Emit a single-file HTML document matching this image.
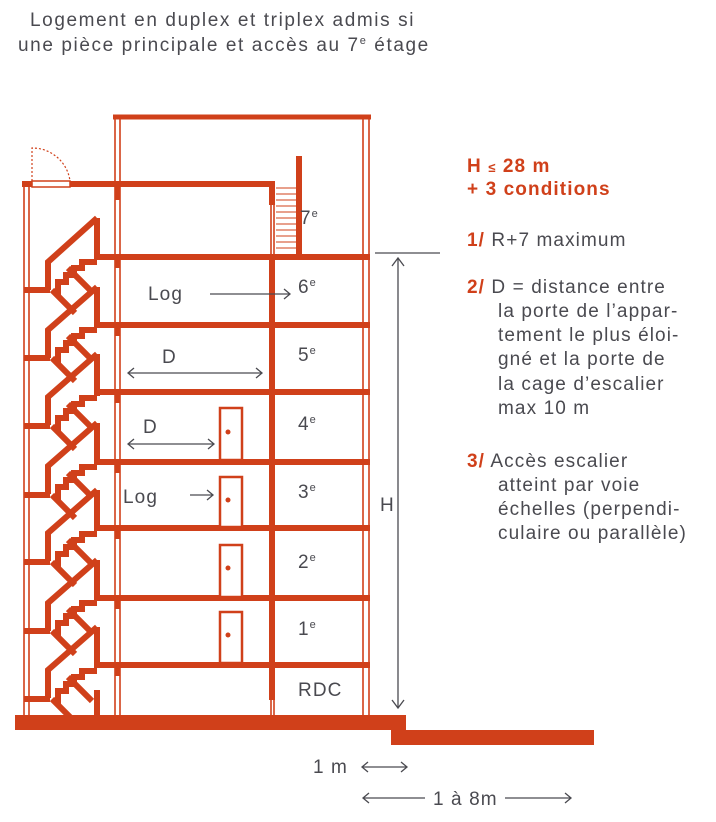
<!DOCTYPE html>
<html><head><meta charset="utf-8"><style>
html,body{margin:0;padding:0;background:#fff}
svg{display:block}
text{font-family:"Liberation Sans",sans-serif;fill:#4a4a50;letter-spacing:1.1px}
.r{fill:#d0401a;font-weight:bold}
</style></head><body>
<svg width="716" height="822" viewBox="0 0 716 822" xmlns="http://www.w3.org/2000/svg">
<g font-size="19">
<text x="30" y="26" style="letter-spacing:1.6px">Logement en duplex et triplex admis si</text>
<text x="18" y="51" style="letter-spacing:1.6px">une pièce principale et accès au 7<tspan font-size="11" dy="-7">e</tspan><tspan dy="7"> étage</tspan></text>
</g>
<g stroke="#d0401a" fill="none">
<g stroke-width="1.6">
<line x1="115" y1="117" x2="115" y2="715"/><line x1="120" y1="117" x2="120" y2="715"/>
<line x1="363" y1="117" x2="363" y2="715"/><line x1="369" y1="117" x2="369" y2="715"/>
<line x1="24" y1="184" x2="24" y2="715"/><line x1="29" y1="184" x2="29" y2="715"/>
<line x1="271" y1="188" x2="271" y2="715"/><line x1="274" y1="188" x2="274" y2="715"/>
</g>
<line x1="113" y1="117" x2="371" y2="117" stroke-width="5"/>
<g stroke-width="6">
<line x1="22" y1="184" x2="275" y2="184"/>
<line x1="272" y1="184" x2="272" y2="205"/>
<line x1="299" y1="156" x2="299" y2="257"/>
<line x1="97" y1="257" x2="370" y2="257"/>
<line x1="97" y1="325" x2="370" y2="325"/>
<line x1="97" y1="392" x2="370" y2="392"/>
<line x1="97" y1="462" x2="370" y2="462"/>
<line x1="97" y1="528" x2="370" y2="528"/>
<line x1="97" y1="598" x2="370" y2="598"/>
<line x1="97" y1="665" x2="370" y2="665"/>
<line x1="272" y1="257" x2="272" y2="700"/>
</g>
<g stroke-width="5">
<line x1="117" y1="184" x2="117" y2="200"/>
<line x1="117" y1="257" x2="117" y2="268"/><line x1="117" y1="325" x2="117" y2="336"/>
<line x1="117" y1="392" x2="117" y2="403"/><line x1="117" y1="462" x2="117" y2="473"/>
<line x1="117" y1="528" x2="117" y2="539"/><line x1="117" y1="598" x2="117" y2="609"/>
<line x1="117" y1="665" x2="117" y2="676"/>
</g>
<rect x="32" y="181" width="38" height="6" fill="#fff" stroke-width="1.5"/>
<path d="M32 185 V148 A38 38 0 0 1 70 181" stroke-width="1.2" stroke-dasharray="2 2"/>
<g stroke-width="1">
<path d="M276 188H297M276 194H297M276 200H297M276 206H297M276 212H297M276 218H297M276 224H297M276 230H297M276 236H297M276 242H297M276 248H297"/>
</g>
<g stroke-width="6" stroke-linejoin="miter">
<path d="M97 218 L48 262 V290"/>
<path d="M97 287 L48 330 V358"/>
<path d="M97 354 L48 397 V425"/>
<path d="M97 423 L48 466 V494"/>
<path d="M97 490 L48 533 V561"/>
<path d="M97 560 L48 603 V631"/>
<path d="M97 627 L48 670 V698"/>
<path d="M97 218V260M97 287V328M97 354V396M97 423V465M97 490V531M97 560V601M97 627V668M97 690V715"/>
<g id="st">
<path d="M58 295 V282 H66 V275 H74 V268 H82 V262 H97"/>
<path d="M68 268 L92 292"/>
<path d="M52 290 L75 313"/>
<line x1="24" y1="290" x2="50" y2="290"/>
</g>
<use href="#st" y="68"/><use href="#st" y="136"/><use href="#st" y="205"/><use href="#st" y="272"/><use href="#st" y="341"/><use href="#st" y="409"/>
</g>
<g stroke-width="2.5" fill="#fff">
<rect x="220" y="408" width="22" height="52"/>
<rect x="220" y="477" width="22" height="50"/>
<rect x="220" y="545" width="22" height="52"/>
<rect x="220" y="612" width="22" height="51"/>
</g>
</g>
<g fill="#d0401a">
<circle cx="228" cy="432" r="2.5"/><circle cx="228" cy="500" r="2.5"/><circle cx="228" cy="568" r="2.5"/><circle cx="228" cy="635" r="2.5"/>
<rect x="15" y="715" width="391" height="15"/>
<rect x="391" y="730" width="203" height="15"/>
</g>
<g stroke="#4a4a50" stroke-width="1.3" fill="none">
<line x1="375" y1="253" x2="440" y2="253"/>
<line x1="398" y1="258" x2="398" y2="708"/>
<path d="M392 266L398 258L404 266M392 700L398 708L404 700"/>
<line x1="210" y1="294" x2="290" y2="294"/><path d="M284 289L290 294L284 299"/>
<line x1="128" y1="373" x2="262" y2="373"/><path d="M134 368L128 373L134 378M256 368L262 373L256 378"/>
<line x1="128" y1="444" x2="214" y2="444"/><path d="M134 439L128 444L134 449M208 439L214 444L208 449"/>
<line x1="190" y1="495" x2="213" y2="495"/><path d="M207 490L213 495L207 500"/>
<line x1="362" y1="767" x2="407" y2="767"/><path d="M368 762L362 767L368 772M401 762L407 767L401 772"/>
<line x1="363" y1="798" x2="425" y2="798"/><path d="M369 793L363 798L369 803"/>
<line x1="505" y1="798" x2="571" y2="798"/><path d="M565 793L571 798L565 803"/>
</g>
<g font-size="19">
<text x="300" y="224">7<tspan font-size="11" dy="-7">e</tspan></text>
<text x="298" y="293">6<tspan font-size="11" dy="-7">e</tspan></text>
<text x="298" y="361">5<tspan font-size="11" dy="-7">e</tspan></text>
<text x="298" y="430">4<tspan font-size="11" dy="-7">e</tspan></text>
<text x="298" y="498">3<tspan font-size="11" dy="-7">e</tspan></text>
<text x="298" y="568">2<tspan font-size="11" dy="-7">e</tspan></text>
<text x="298" y="635">1<tspan font-size="11" dy="-7">e</tspan></text>
<text x="298" y="696">RDC</text>
<text x="148" y="300">Log</text>
<text x="162" y="363">D</text>
<text x="143" y="433">D</text>
<text x="123" y="503">Log</text>
<text x="380" y="511">H</text>
<text x="313" y="773">1 m</text>
<text x="433" y="805">1 à 8m</text>
<text x="467" y="172" class="r">H <tspan font-size="13">≤</tspan> 28 m</text>
<text x="467" y="195" class="r">+ 3 conditions</text>
<text x="467" y="246"><tspan class="r">1/</tspan> R+7 maximum</text>
<text x="467" y="293"><tspan class="r">2/</tspan> D = distance entre</text>
<text x="498" y="317">la porte de l’appar-</text>
<text x="498" y="341">tement le plus éloi-</text>
<text x="498" y="365">gné et la porte de</text>
<text x="498" y="390">la cage d’escalier</text>
<text x="498" y="414">max 10 m</text>
<text x="467" y="467"><tspan class="r">3/</tspan> Accès escalier</text>
<text x="498" y="491">atteint par voie</text>
<text x="498" y="515">échelles (perpendi-</text>
<text x="498" y="539">culaire ou parallèle)</text>
</g>
</svg>
</body></html>
